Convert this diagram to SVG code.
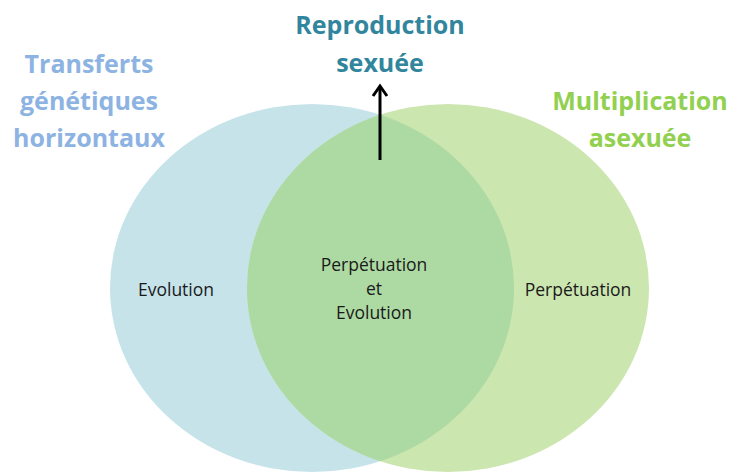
<svg xmlns="http://www.w3.org/2000/svg" width="732" height="472" viewBox="0 0 732 472">
<style>
.title{font-family:"Open Sans","Liberation Sans",sans-serif;font-weight:bold;font-size:25px;text-anchor:middle}
.lbl{font-family:"Open Sans","Liberation Sans",sans-serif;font-size:17.5px;fill:#1a1a1a;text-anchor:middle}
</style>
<defs>
<clipPath id="blueClip"><ellipse cx="312" cy="288" rx="202" ry="184"/></clipPath>
<marker id="arr" markerWidth="14" markerHeight="18" refX="11" refY="9" orient="auto" markerUnits="userSpaceOnUse" viewBox="0 0 14 18">
<path d="M1,2 L11,9 L1,16" fill="none" stroke="#000" stroke-width="3" stroke-linejoin="miter"/>
</marker>
</defs>
<rect width="732" height="472" fill="#fff"/>
<g id="blue-circle">
<ellipse cx="312" cy="288" rx="202" ry="184" fill="#C6E3EA"/>
<text class="lbl" x="176" y="296">Evolution</text>
</g>
<g id="green-circle">
<ellipse cx="448" cy="288" rx="201" ry="184" fill="#CCE6B0"/>
<text class="lbl" x="578" y="296">Perpétuation</text>
</g>
<g id="overlap">
<ellipse cx="448" cy="288" rx="201" ry="184" fill="#ADD9A3" clip-path="url(#blueClip)"/>
<text class="lbl" x="374" y="271">Perpétuation</text>
<text class="lbl" x="374" y="295">et</text>
<text class="lbl" x="374" y="319">Evolution</text>
</g>
<g id="transferts">
<text class="title" fill="#8DB3E2" x="89" y="73">Transferts</text>
<text class="title" fill="#8DB3E2" x="89" y="110">génétiques</text>
<text class="title" fill="#8DB3E2" x="89" y="147">horizontaux</text>
</g>
<g id="reproduction">
<text class="title" fill="#31859C" x="380" y="34">Reproduction</text>
<text class="title" fill="#31859C" x="380" y="72">sexuée</text>
</g>
<g id="multiplication">
<text class="title" fill="#92D050" x="640" y="110">Multiplication</text>
<text class="title" fill="#92D050" x="640" y="147">asexuée</text>
</g>
<g id="connectors">
<line x1="380" y1="160" x2="380" y2="86" stroke="#000" stroke-width="3" marker-end="url(#arr)"/>
</g>
</svg>
